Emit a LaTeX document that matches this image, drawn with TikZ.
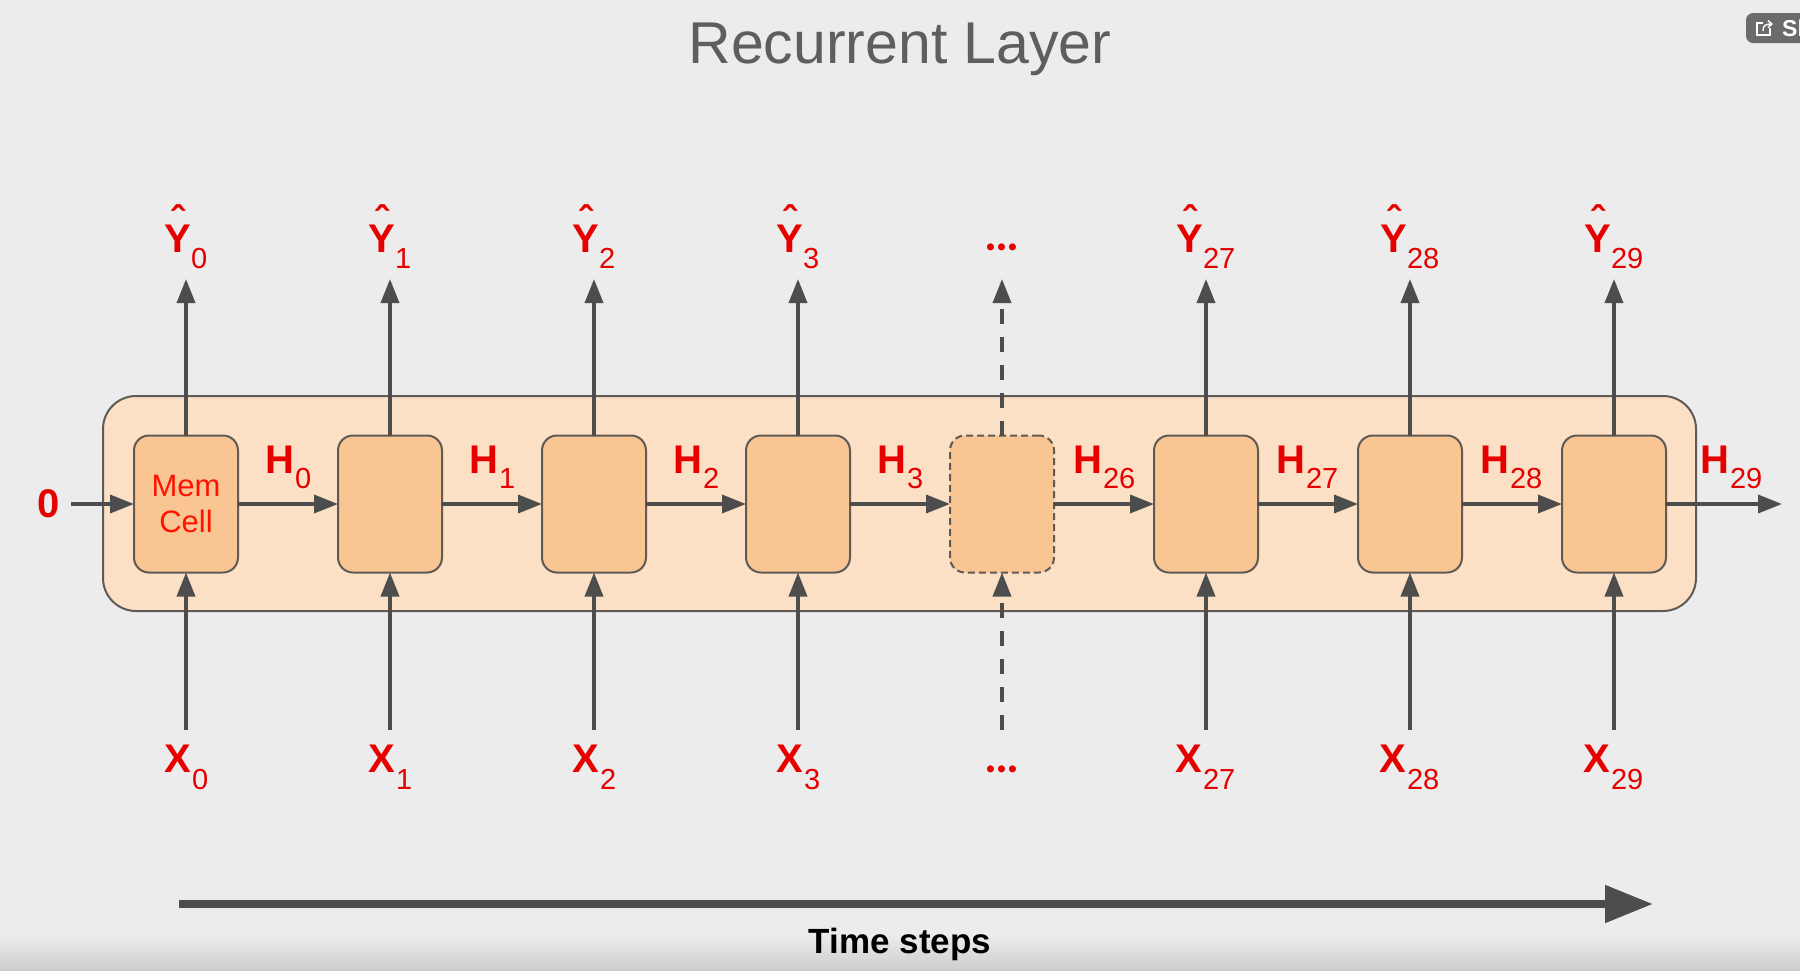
\documentclass[tikz,border=0pt]{standalone}
\usepackage{fontspec}
\setmainfont{Liberation Sans}
\newfontfamily\dotfont{Lato}
\usetikzlibrary{arrows.meta}
\definecolor{bgc}{HTML}{ECECEC}
\definecolor{outerc}{HTML}{FBE0C5}
\definecolor{cellc}{HTML}{F9C593}
\definecolor{linec}{HTML}{4D4D4D}
\definecolor{edgec}{HTML}{5F5A55}
\definecolor{redc}{HTML}{E60000}
\newcommand{\fsz}[1]{\fontsize{#1}{#1}\selectfont}
\tikzset{
  x=1pt,y=-1pt,
  txt/.style={inner sep=0pt,outer sep=0pt,text=redc},
  mainlab/.style={txt,anchor=base,font=\fsz{40}\bfseries},
  sublab/.style={txt,anchor=base west,font=\fsz{29}},
  hatlab/.style={txt,anchor=base,font=\fsz{40}\bfseries},
  dotlab/.style={txt,anchor=base,font=\fsz{46}\dotfont\bfseries},
  cellbox/.style={draw=edgec,line width=2pt,fill=cellc,rounded corners=15pt,minimum width=104pt,minimum height=137pt,inner sep=0pt,outer sep=0pt},
  arr/.style={draw=linec,line width=3.6pt,-{Triangle[length=24pt,width=18pt]}},
}
\begin{document}
\begin{tikzpicture}
\useasboundingbox (0,0) rectangle (1800,970);
\fill[bgc] (0,0) rectangle (1800,970);
\shade[top color=bgc,bottom color=bgc!87!black] (0,935) rectangle (1800,970);
% title
\node[inner sep=0pt,anchor=base,text=black!63,font=\fsz{59}] (title) at (900,63) {Recurrent Layer};
% share button
\begin{scope}
\clip (1700,0) rectangle (1800,60);
\fill[black!58,rounded corners=7pt] (1746,13) rectangle (1830,43);
\draw[white,line width=1.4pt] (1770,28) -- (1770,35) -- (1757,35) -- (1757,23) -- (1763,23);
\draw[white,line width=1.4pt,-{Straight Barb[length=4pt,width=7pt]}] (1763,31) .. controls (1763,25) and (1766,24) .. (1773,24);
\node[inner sep=0pt,anchor=base west,text=white,font=\fsz{23}\bfseries] (share) at (1782,36) {Sh};
\end{scope}
% outer layer
\draw[edgec,line width=2pt,fill=outerc,rounded corners=33pt] (103,396) rectangle (1696,611);
% cells
\foreach \i/\cx in {0/186,1/390,2/594,3/798,5/1206,6/1410,7/1614}{
  \node[cellbox] (c\i) at (\cx,504) {};
}
\node[cellbox,dash pattern=on 7pt off 4pt] (c4) at (1002,504) {};
\node[txt,align=center,font=\fsz{31},text=red!85!orange] (memcell) at (186,504) {Mem\\[5pt]Cell};
% solid vertical arrows
\foreach \i/\cx in {0/186,1/390,2/594,3/798,5/1206,6/1410,7/1614}{
  \coordinate (in\i) at (\cx,730);
  \coordinate (out\i) at (\cx,279);
  \draw[arr] (in\i) -- (c\i.south);
  \draw[arr] (c\i.north) -- (out\i);
}
% dashed vertical arrows
\coordinate (in4) at (1002,730);
\coordinate (out4) at (1002,279);
\draw[arr,dash pattern=on 15pt off 13pt] (in4) -- (c4.south);
\draw[arr,dash pattern=on 15pt off 13pt] (c4.north) -- (out4);
% horizontal arrows
\coordinate (start) at (71,504);
\coordinate (end) at (1782,504);
\draw[arr] (start) -- (c0.west);
\draw[arr] (c0.east) -- (c1.west);
\draw[arr] (c1.east) -- (c2.west);
\draw[arr] (c2.east) -- (c3.west);
\draw[arr] (c3.east) -- (c4.west);
\draw[arr] (c4.east) -- (c5.west);
\draw[arr] (c5.east) -- (c6.west);
\draw[arr] (c6.east) -- (c7.west);
\draw[arr] (c7.east) -- (end);
\node[mainlab] (zero) at (49,517) {0};
% output labels
\foreach \i/\x/\s in {0/178/0,1/382/1,2/586/2,3/790/3,5/1190/27,6/1394/28,7/1598/29}{
  \node[mainlab] (y\i) at (\x,252) {Y};
  \node[hatlab] (yh\i) at (\x,234) {ˆ};
  \node[sublab] (ys\i) at (\x+13,268) {\s};
}
\node[dotlab] (ydots) at (1002,250) {...};
% input labels
\foreach \i/\x/\s in {0/178/0,1/382/1,2/586/2,3/790/3,5/1189/27,6/1393/28,7/1597/29}{
  \node[mainlab] (x\i) at (\x,772) {X};
  \node[sublab] (xs\i) at (\x+14,789) {\s};
}
\node[dotlab] (xdots) at (1002,772) {...};
% hidden labels
\foreach \i/\x/\s in {0/280/0,1/484/1,2/688/2,3/892/3,4/1088/26,5/1291/27,6/1495/28,7/1715/29}{
  \node[mainlab] (h\i) at (\x,473) {H};
  \node[sublab] (hs\i) at (\x+15,488) {\s};
}
% time axis
\coordinate (t0) at (179,904);
\coordinate (t1) at (1653,904);
\draw[draw=linec,line width=8pt,-{Triangle[length=48pt,width=36pt]}] (t0) -- (t1);
\node[inner sep=0pt,anchor=base,text=black,font=\fsz{35}\bfseries] (timelabel) at (900,953) {Time steps};
\end{tikzpicture}
\end{document}
